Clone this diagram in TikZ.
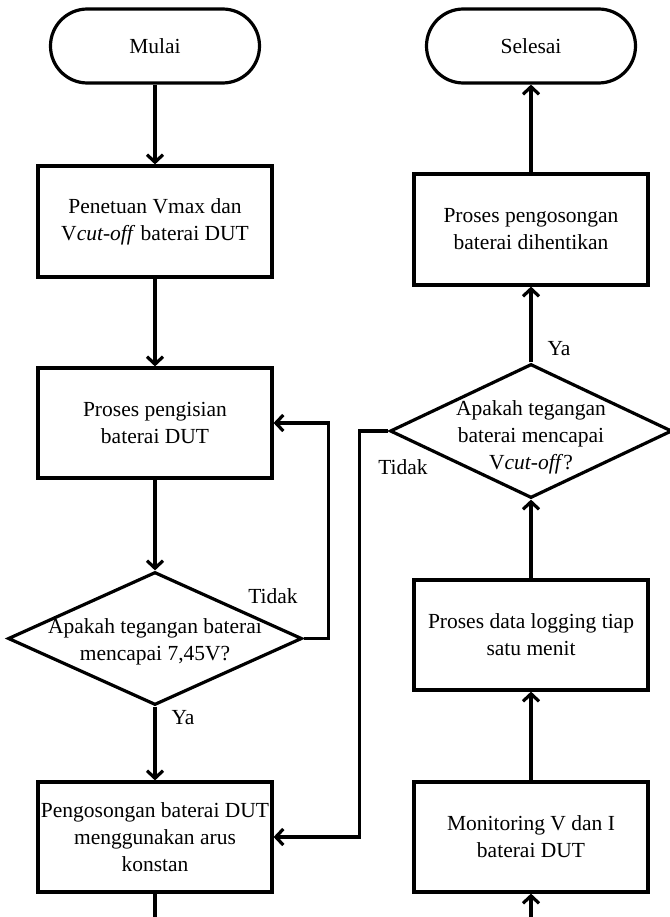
\documentclass[tikz,border=0pt]{standalone}
\usepackage{fontspec}
\setmainfont{Liberation Serif}
\usetikzlibrary{arrows.meta,shapes.geometric}
\begin{document}
\begin{tikzpicture}[x=1pt,y=1pt,
 every node/.style={font=\fontsize{21.5}{27}\selectfont},
 line/.style={line width=3.2pt},
 arr/.style={line, -{Straight Barb[length=7.5pt,width=16pt]}},
 term/.style={draw, line width=3.2pt, rounded corners=36.9pt, minimum width=209pt, minimum height=74pt, inner sep=0pt},
 proc/.style={draw, line width=3.2pt, minimum width=234pt, minimum height=110pt, inner sep=0pt, align=center},
 dec/.style={draw, diamond, line width=3.2pt, inner sep=0pt},
 txt/.style={align=center, inner sep=0pt},
 lbl/.style={inner sep=0pt}
]
\useasboundingbox (0,0) rectangle (669,-917);
% left column
\node[term] (mulai) at (155,-46) {Mulai};
\node[proc, minimum height=111pt] (b1) at (155,-221.5) {Penetuan Vmax dan\\V\textit{cut-off} baterai DUT};
\node[proc] (b2) at (155,-423) {Proses pengisian\\baterai DUT};
\node[dec, minimum width=294pt, minimum height=133pt] (d1) at (155,-638.5) {};
\node[txt] (d1t) at (155,-642) {Apakah tegangan baterai\\mencapai 7,45V?};
\node[proc] (b3) at (155,-837) {Pengosongan baterai DUT\\menggunakan arus\\konstan};
% right column
\node[term] (selesai) at (531,-46) {Selesai};
\node[proc, minimum height=111pt] (r1) at (531,-229.5) {Proses pengosongan\\baterai dihentikan};
\node[dec, minimum width=282pt, minimum height=134pt] (d2) at (531,-431) {};
\node[txt] (d2t) at (531,-437) {Apakah tegangan\\baterai mencapai\\V\textit{cut-off}?};
\node[proc] (r2) at (531,-635) {Proses data logging tiap\\satu menit};
\node[proc] (r3) at (531,-837) {Monitoring V dan I\\baterai DUT};
% cut ends
\coordinate (cutL) at (155,-922);
\coordinate (cutR) at (531,-922);
% connectors left
\draw[arr] (mulai) -- (b1);
\draw[arr] (b1) -- (b2);
\draw[arr] (b2) -- (d1.north);
\draw[arr] (d1.south) -- (b3);
\draw[arr] (d1.east) -- ++(25,0) |- (b2.east);
\draw[line] (b3.south) -- (cutL);
% connectors right
\draw[arr] (cutR) -- (r3.south);
\draw[arr] (r3) -- (r2);
\draw[arr] (r2) -- (d2);
\draw[arr] (d2) -- (r1);
\draw[arr] (r1) -- (selesai);
\draw[arr] (d2.west) -- ++(-29,0) |- (b3.east);
% labels
\node[lbl] (t1) at (273,-596) {Tidak};
\node[lbl] (y1) at (183,-718) {Ya};
\node[lbl] (y2) at (559,-349) {Ya};
\node[lbl] (t2) at (403,-467) {Tidak};
\end{tikzpicture}
\end{document}
